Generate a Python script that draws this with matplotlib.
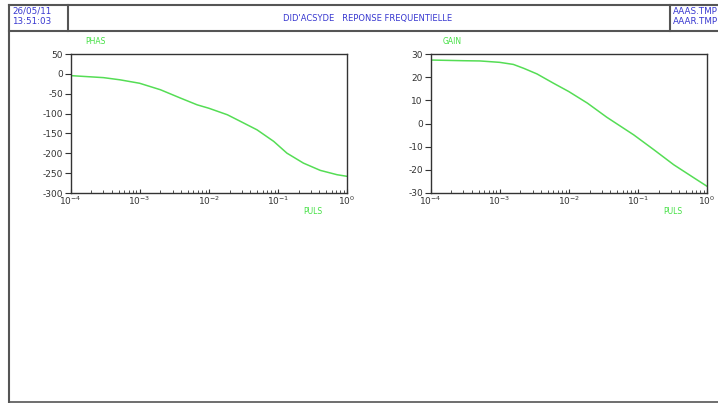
import numpy as np
import matplotlib
matplotlib.use("Agg")
import matplotlib.pyplot as plt
from matplotlib.lines import Line2D
from matplotlib.ticker import LogLocator, FixedLocator, FixedFormatter

plt.rcParams['axes.unicode_minus'] = False

# Data
puls_phase = [1e-4, 3.0e-4, 5.2e-4, 1e-3, 2.0e-3, 3.9e-3, 6.8e-3, 1e-2, 1.86e-2, 2.9e-2, 5.0e-2, 8.7e-2, 1.35e-1, 2.34e-1, 4.1e-1, 7.2e-1, 1.0]
phase = [-4.4, -9.5, -15, -23.7, -40, -61, -78, -86.5, -103, -120, -141, -170, -199.6, -224.7, -243, -254, -258]
puls_gain = [1e-4, 3.0e-4, 5.2e-4, 1e-3, 1.58e-3, 2.24e-3, 3.47e-3, 6.0e-3, 1e-2, 1.86e-2, 3.55e-2, 8.7e-2, 1.7e-1, 3.3e-1, 6.5e-1, 1.0]
gain = [27.4, 27.1, 27.0, 26.4, 25.5, 23.8, 21.4, 17.4, 13.8, 8.8, 2.7, -4.9, -11.3, -17.8, -23.5, -27.1]
phase_ticks = [50, 0, -50, -100, -150, -200, -250, -300]
gain_ticks = [30, 20, 10, 0, -10, -20, -30]
x_ticks = [1e-4, 1e-3, 1e-2, 1e-1, 1e0]
x_labels = [r'$10^{-4}$', r'$10^{-3}$', r'$10^{-2}$', r'$10^{-1}$', r'$10^{0}$']

W, H = 718, 403
fig = plt.figure(figsize=(W / 100, H / 100), dpi=100)

def frac(x, y):
    return x / W, 1 - y / H

frame_col = '#555555'
blue = '#3838d0'
green = '#44e044'
curve = '#55dd55'
txt = '#333333'

def hline(y, x0, x1, lw=1.5):
    fig.add_artist(Line2D([x0 / W, x1 / W], [1 - y / H, 1 - y / H], color=frame_col, lw=lw))

def vline(x, y0, y1, lw=1.5):
    fig.add_artist(Line2D([x / W, x / W], [1 - y0 / H, 1 - y1 / H], color=frame_col, lw=lw))

hline(4.5, 8.5, 718)
hline(31, 8.5, 718)
hline(402, 8.5, 718, lw=1.2)
vline(9, 4.5, 402)
vline(68, 4.5, 31)
vline(669.5, 4.5, 31)

fig.text(*frac(12, 11), '26/05/11', color=blue, fontsize=6.3, va='center', ha='left')
fig.text(*frac(12, 21), '13:51:03', color=blue, fontsize=6.3, va='center', ha='left')
fig.text(*frac(368, 18), "DID'ACSYDE   REPONSE FREQUENTIELLE", color=blue, fontsize=6.0,
         va='center', ha='center')
fig.text(*frac(673, 11), 'AAAS.TMP', color=blue, fontsize=6.3, va='center', ha='left')
fig.text(*frac(673, 21), 'AAAR.TMP', color=blue, fontsize=6.3, va='center', ha='left')

def make_axes(left, right, top, bottom, xs, ys, yticks, ylim, title, title_x, puls_x):
    ax = fig.add_axes([left / W, 1 - bottom / H, (right - left) / W, (bottom - top) / H])
    ax.plot(xs, ys, color=curve, lw=1.1)
    ax.set_xscale('log')
    ax.set_xlim(1e-4, 1)
    ax.set_ylim(*ylim)
    ax.xaxis.set_major_locator(FixedLocator(x_ticks))
    ax.xaxis.set_major_formatter(FixedFormatter(x_labels))
    ax.xaxis.set_minor_locator(LogLocator(base=10, subs=np.arange(2, 10), numticks=20))
    ax.yaxis.set_major_locator(FixedLocator(yticks))
    ax.yaxis.set_major_formatter(FixedFormatter([str(v) for v in yticks]))
    ax.tick_params(axis='x', which='major', direction='in', length=3, width=0.8,
                   labelsize=6.5, colors=txt, pad=1.5)
    ax.tick_params(axis='x', which='minor', direction='in', length=2, width=0.6, colors=txt)
    ax.tick_params(axis='y', which='major', direction='out', length=4, width=0.8,
                   labelsize=6.5, colors=txt, pad=1.5)
    for s in ax.spines.values():
        s.set_color('#333333')
        s.set_linewidth(1.0)
    fig.text(*frac(title_x, 42), title, color=green, fontsize=5.5, va='center', ha='left')
    fig.text(*frac(puls_x, 212), 'PULS', color=green, fontsize=5.5, va='center', ha='left')
    return ax

make_axes(70.5, 347, 54, 193, puls_phase, phase, phase_ticks, (-300, 50), 'PHAS', 85, 303)
make_axes(430.5, 707, 54, 193, puls_gain, gain, gain_ticks, (-30, 30), 'GAIN', 443, 663)

fig.savefig('out.png', dpi=100, facecolor='white')
